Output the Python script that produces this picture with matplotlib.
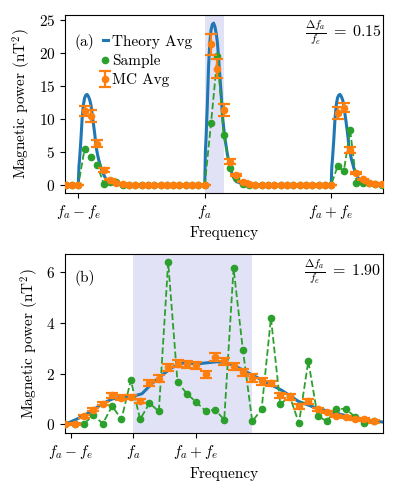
import matplotlib
matplotlib.use("Agg")
import matplotlib.pyplot as plt

plt.rcParams['font.family'] = 'serif'
plt.rcParams['font.serif'] = ['cmr10']
plt.rcParams['mathtext.fontset'] = 'cm'
plt.rcParams['axes.formatter.use_mathtext'] = True
plt.rcParams['font.size'] = 11

# ---------------- panel (a) data ----------------
freq_a = [-1.10, -1.05, -1.00, -0.95, -0.90, -0.85, -0.80, -0.75, -0.70, -0.65,
          -0.60, -0.55, -0.50, -0.45, -0.40, -0.35, -0.30, -0.25, -0.20, -0.15,
          -0.10, -0.05, 0.00, 0.05, 0.10, 0.15, 0.20, 0.25, 0.30, 0.35,
          0.40, 0.45, 0.50, 0.55, 0.60, 0.65, 0.70, 0.75, 0.80, 0.85,
          0.90, 0.95, 1.00, 1.05, 1.10, 1.15, 1.20, 1.25, 1.30, 1.35, 1.40]
mc_a = [0, 0, 0, 11.2, 10.5, 6.25, 2.2, 0.8, 0.3, 0.12,
        0, 0, 0, 0, 0, 0, 0, 0, 0, 0,
        0, 0, 0, 21.3, 17.6, 11.3, 3.5, 1.5, 0.45, 0.1,
        0, 0, 0, 0, 0, 0, 0, 0, 0, 0,
        0, 0, 0, 10.9, 11.7, 5.3, 1.8, 0.86, 0.36, 0.2, 0.1]
mc_err_a = [0, 0, 0, 0.7, 0.9, 0.55, 0.3, 0.1, 0.05, 0.02,
            0, 0, 0, 0, 0, 0, 0, 0, 0, 0,
            0, 0, 0, 1.6, 1.4, 0.9, 0.4, 0.2, 0.08, 0.02,
            0, 0, 0, 0, 0, 0, 0, 0, 0, 0,
            0, 0, 0, 0.85, 0.7, 0.4, 0.2, 0.1, 0.05, 0.03, 0.02]
sample_a = [0, 0, 0, 5.5, 4.3, 3.0, 0.2, 0.5, 0.4, 0.0,
            0, 0, 0, 0, 0, 0, 0, 0, 0, 0,
            0, 0, 0, 9.4, 19.5, 7.5, 2.5, 1.1, 0.1, 0.0,
            0, 0, 0, 0, 0, 0, 0, 0, 0, 0,
            0, 0, 0, 2.8, 2.1, 8.3, 0.36, 0.3, 0.3, 0.1, 0.0]

# theory line shape read at offsets from each peak start
theory_offsets = [0.0, 0.005, 0.01, 0.02, 0.03, 0.04, 0.05, 0.06, 0.07, 0.08,
                  0.09, 0.10, 0.11, 0.12, 0.13, 0.14, 0.15, 0.16, 0.18, 0.20,
                  0.22, 0.25, 0.30, 0.35]
theory_lo = [0, 2.8, 3.9, 6.7, 10.0, 12.1, 13.2, 13.6, 13.7, 13.4,
             12.9, 12.1, 10.6, 9.2, 7.7, 5.9, 4.8, 3.9, 2.5, 1.6,
             0.8, 0.3, 0.08, 0]
theory_mid = [0, 5.0, 7.0, 12.0, 17.9, 21.6, 23.5, 24.3, 24.5, 24.0,
              23.0, 21.6, 19.0, 16.4, 13.7, 10.5, 8.6, 7.0, 4.5, 2.8,
              1.4, 0.5, 0.15, 0]
theory_hi = [0, 2.8, 3.9, 6.7, 10.0, 12.1, 13.2, 13.6, 13.7, 13.4,
             12.9, 12.1, 10.6, 9.2, 7.7, 5.9, 4.8, 3.9, 2.5, 1.6,
             0.8, 0.3, 0.08, 0]
peak_starts_a = [-1.0, 0.0, 1.0]

# ---------------- panel (b) data ----------------
freq_b = [-1.09, -0.94, -0.79, -0.64, -0.49, -0.34, -0.19, -0.04, 0.11, 0.26,
          0.41, 0.56, 0.71, 0.86, 1.01, 1.16, 1.31, 1.46, 1.61, 1.76,
          1.91, 2.06, 2.21, 2.36, 2.51, 2.66, 2.81, 2.96, 3.11, 3.26,
          3.41, 3.56, 3.71, 3.86]
mc_b = [0.0, 0.03, 0.32, 0.58, 0.82, 1.15, 1.06, 1.08, 0.92, 1.63,
        1.81, 2.25, 2.40, 2.37, 2.33, 1.97, 2.66, 2.49, 2.30, 2.05,
        1.83, 1.70, 1.63, 1.15, 1.08, 0.71, 0.91, 0.59, 0.49, 0.33,
        0.29, 0.22, 0.20, 0.12]
mc_err_b = [0.03, 0.04, 0.05, 0.06, 0.07, 0.09, 0.09, 0.09, 0.09, 0.12,
            0.12, 0.14, 0.14, 0.14, 0.14, 0.14, 0.14, 0.14, 0.14, 0.14,
            0.14, 0.14, 0.10, 0.10, 0.10, 0.10, 0.10, 0.05, 0.05, 0.05,
            0.05, 0.05, 0.05, 0.05]
sample_b = [0.0, 0.0, 0.03, 0.36, 0.03, 0.72, 0.2, 1.74, 0.2, 0.84,
            0.51, 6.40, 1.67, 1.21, 0.88, 0.53, 0.58, 0.19, 6.16, 2.93,
            0.12, 0.59, 4.20, 0.79, 1.12, 0.05, 2.50, 0.32, 0.13, 0.61,
            0.61, 0.30, 0.04, 0.13]
theory_freq_b = [-1.10, -0.94, -0.79, -0.64, -0.49, -0.34, -0.19, -0.07, 0.0, 0.14,
                 0.30, 0.46, 0.62, 0.80, 1.07, 1.34, 1.50, 1.66, 1.87, 2.09,
                 2.38, 2.65, 2.92, 3.18, 3.45, 3.72, 4.01]
theory_b = [0.0, 0.17, 0.35, 0.58, 0.82, 1.0, 1.08, 1.11, 1.11, 1.21,
            1.61, 1.94, 2.24, 2.42, 2.40, 2.47, 2.44, 2.27, 2.0, 1.72,
            1.35, 0.91, 0.66, 0.49, 0.32, 0.19, 0.09]

xtick_pos_a = [-1.0, 0.0, 1.0]
xtick_pos_b = [-1.0, 0.0, 1.0]
xtick_labels = [r'$f_a - f_e$', r'$f_a$', r'$f_a + f_e$']
ratio_a = 0.15
ratio_b = 1.90

# theory curve for panel (a)
theory_freq_a = [-1.105]
theory_a = [0.0]
for start, vals in zip(peak_starts_a, [theory_lo, theory_mid, theory_hi]):
    theory_freq_a += [start + o for o in theory_offsets]
    theory_a += vals
theory_freq_a.append(1.41)
theory_a.append(0.0)

C_BLUE = '#1f77b4'
C_GREEN = '#2ca02c'
C_ORANGE = '#ff7f0e'
C_SPAN = '#e2e2f6'

fig = plt.figure(figsize=(3.99, 4.93), dpi=100)
ax1 = fig.add_axes([0.163, 0.6085, 0.797, 0.361])
ax2 = fig.add_axes([0.163, 0.1211, 0.797, 0.3637])


def draw(ax, tf, tv, f, s, m, e, ratio, xlim, ticks, yticks):
    ax.axvspan(0.0, ratio, color=C_SPAN, lw=0, zorder=0)
    ax.plot(tf, tv, color=C_BLUE, lw=2.2, label='Theory Avg', zorder=2)
    ax.plot(f, s, color=C_GREEN, ls='--', lw=1.3, marker='o', ms=4.5,
            label='Sample', zorder=3)
    ax.errorbar(f, m, yerr=e, color=C_ORANGE, ls='none', marker='o', ms=4.5,
                capsize=4, elinewidth=1.6, capthick=1.6, label='MC Avg', zorder=4)
    ax.set_xlim(*xlim)
    ax.set_xticks(ticks)
    ax.set_xticklabels(xtick_labels)
    ax.set_yticks(yticks)
    ax.set_xlabel('Frequency')
    ax.set_ylabel(r'Magnetic power (nT$^2$)')
    ax.text(0.995, 0.9, r'$\frac{\Delta f_a}{f_e}\;=\;%.2f$' % ratio,
            transform=ax.transAxes, ha='right', va='center', fontsize=11.5)


draw(ax1, theory_freq_a, theory_a, freq_a, sample_a, mc_a, mc_err_a, ratio_a,
     (-1.105, 1.41), xtick_pos_a, [0, 5, 10, 15, 20, 25])
draw(ax2, theory_freq_b, theory_b, freq_b, sample_b, mc_b, mc_err_b, ratio_b,
     (-1.096, 4.01), xtick_pos_b, [0, 2, 4, 6])

ax1.text(0.03, 0.85, '(a)', transform=ax1.transAxes, ha='left', va='center')
ax2.text(0.03, 0.865, '(b)', transform=ax2.transAxes, ha='left', va='center')

ax1.legend(loc='upper left', bbox_to_anchor=(0.12, 0.89), frameon=False,
           handlelength=0.3, handletextpad=0.3, labelspacing=0.35,
           borderaxespad=0, borderpad=0)

fig.align_ylabels([ax1, ax2])
fig.savefig('out.png', dpi=100)
